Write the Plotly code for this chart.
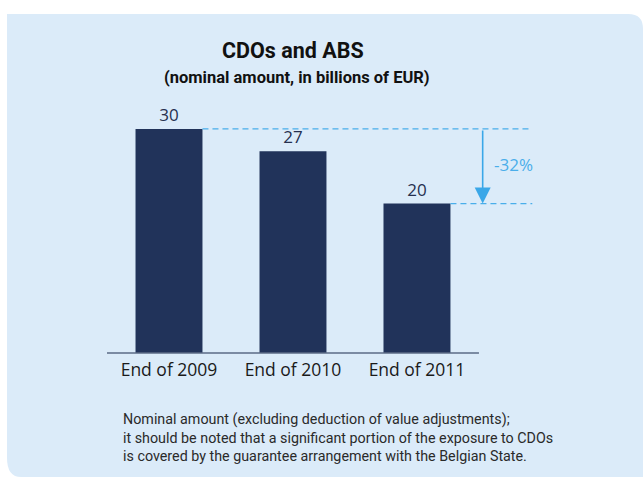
import plotly.graph_objects as go

# Data
categories = ["End of 2009", "End of 2010", "End of 2011"]
amounts = [30, 27, 20]
change_label = "-32%"
title_text = "CDOs and ABS"
subtitle_text = "(nominal amount, in billions of EUR)"
footnote_lines = [
    "Nominal amount (excluding deduction of value adjustments);",
    "it should be noted that a significant portion of the exposure to CDOs",
    "is covered by the guarantee arrangement with the Belgian State.",
]

W, H = 643, 477
BG = "#DBEBF9"
BAR = "#21335A"
ACCENT = "#4AAEEA"
BOLD_FONT = "Roboto, Noto Sans, sans-serif"
REGULAR = "Open Sans, Noto Sans, sans-serif"
NOTE_FONT = "Roboto, Noto Sans, sans-serif"

x_idx = list(range(len(categories)))
mid = (len(categories) - 1) / 2
first, last = amounts[0], amounts[-1]
last_i = len(amounts) - 1
guide_end = last_i + 0.93     # right end of the dashed guides
arrow_x = last_i + 0.53       # position of the change arrow

fig = go.Figure()

fig.add_trace(go.Bar(
    x=x_idx, y=amounts, width=0.54,
    marker=dict(color=BAR, line=dict(width=0)),
    text=[str(v) for v in amounts], textposition="outside",
    textfont=dict(family=REGULAR, size=17, color="#26304F"),
    cliponaxis=False, hoverinfo="skip",
))

shapes = [
    # panel background with rounded corners
    dict(type="path", xref="paper", yref="paper", layer="below",
         path=("M 0.0109,0.9707 L 0.977,0.9707 Q 1.0,0.9707 1.0,0.94 "
               "L 1.0,0 L 0.033,0 Q 0.0109,0 0.0109,0.04 Z"),
         fillcolor=BG, line=dict(width=0)),
    # baseline
    dict(type="line", xref="x", yref="paper", x0=-0.5, x1=len(categories) - 0.5,
         y0=0.26, y1=0.26, line=dict(color="#5B6B86", width=1.5)),
    # dashed reference levels
    dict(type="line", xref="x", yref="y", x0=0.27, x1=guide_end, y0=first, y1=first,
         line=dict(color=ACCENT, width=1.3, dash="6px,4px")),
    dict(type="line", xref="x", yref="y", x0=last_i + 0.27, x1=guide_end, y0=last, y1=last,
         line=dict(color=ACCENT, width=1.3, dash="6px,4px")),
]

annotations = [
    dict(text="<b>" + title_text + "</b>", xref="x", yref="paper",
         x=mid, y=1 - 50 / H, xanchor="center", yanchor="middle", showarrow=False,
         font=dict(family=BOLD_FONT, size=21.5, color="#111111")),
    dict(text="<b>" + subtitle_text + "</b>", xref="x", yref="paper",
         x=mid + 0.03, y=1 - 77 / H, xanchor="center", yanchor="middle", showarrow=False,
         font=dict(family=BOLD_FONT, size=16.5, color="#111111")),
    # change arrow
    dict(x=arrow_x, y=last, ax=arrow_x, ay=first, xref="x", yref="y",
         axref="x", ayref="y", text="", showarrow=True, arrowhead=2,
         arrowsize=2, arrowwidth=1.6, arrowcolor="#3AA7E8"),
    dict(text=change_label, x=arrow_x + 0.25, y=(first + last) / 2 + 0.2,
         xref="x", yref="y", xanchor="center", yanchor="middle", showarrow=False,
         font=dict(family=REGULAR, size=17, color=ACCENT)),
    dict(text="<br>".join(footnote_lines), xref="paper", yref="paper",
         x=121 / W, y=1 - 409 / H, xanchor="left", yanchor="top", align="left",
         showarrow=False, font=dict(family=NOTE_FONT, size=14.3, color="#2A2A2A")),
]

fig.update_layout(
    width=W, height=H,
    margin=dict(l=0, r=0, t=0, b=0),
    paper_bgcolor="white", plot_bgcolor="rgba(0,0,0,0)",
    showlegend=False,
    shapes=shapes, annotations=annotations,
    xaxis=dict(domain=[0, 1], range=[-1.363, 3.823], tickvals=x_idx, ticktext=categories,
               showgrid=False, zeroline=False, showline=False, ticks="",
               tickfont=dict(family=REGULAR, size=17.5, color="#1A1A1A"),
               ticklabelstandoff=5, fixedrange=True),
    yaxis=dict(domain=[0.26, 1], range=[0, 47.26], visible=False, fixedrange=True),
)

fig.write_html("out.html")
